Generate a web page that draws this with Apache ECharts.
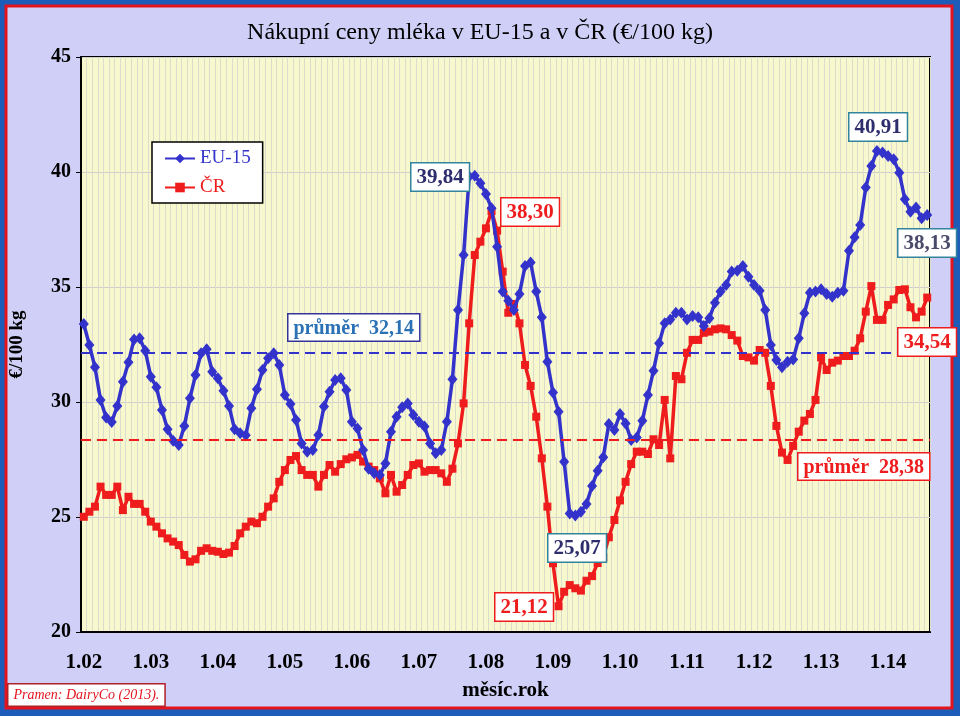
<!DOCTYPE html>
<html><head><meta charset="utf-8">
<script src="https://cdn.jsdelivr.net/npm/echarts@6/dist/echarts.min.js"></script>
<style>html,body{margin:0;padding:0;background:#fff}#c{width:960px;height:716px}</style>
</head><body><div id="c"></div>
<script>
// ---- data ----
const years = ['02','03','04','05','06','07','08','09','10','11','12','13','14'];
const monthCount = 152; // 1.02 .. 8.14
const eu15 = [
 33.39,32.48,31.51,30.09,29.33,29.13,29.83,30.88,31.73,32.72,32.77,32.23,
 31.10,30.64,29.65,28.81,28.32,28.13,28.96,30.16,31.17,32.12,32.29,31.32,
 31.03,30.49,29.83,28.81,28.64,28.55,29.73,30.55,31.39,31.90,32.12,31.61,
 30.30,29.91,29.22,28.20,27.84,27.91,28.57,29.80,30.45,30.96,31.03,30.52,
 29.14,28.85,27.91,27.10,26.90,26.83,27.33,28.71,29.36,29.77,29.94,29.43,
 29.14,28.93,28.20,27.77,27.91,29.14,30.99,34.00,36.39,39.80,39.84,39.51,
 39.04,38.42,36.75,34.80,34.40,34.00,34.70,35.91,36.06,34.80,33.68,31.75,
 30.41,29.58,27.40,25.15,25.07,25.23,25.57,26.35,27.01,27.60,29.04,28.78,
 29.48,29.07,28.35,28.46,29.19,30.30,31.36,32.55,33.42,33.59,33.88,33.88,
 33.59,33.74,33.68,33.30,33.64,34.32,34.80,35.09,35.67,35.71,35.91,35.45,
 35.09,34.84,34.00,32.48,31.83,31.51,31.75,31.85,32.77,33.86,34.75,34.80,
 34.90,34.70,34.58,34.75,34.84,36.58,37.16,37.70,39.33,40.26,40.91,40.85,
 40.70,40.55,39.97,38.81,38.27,38.46,37.99,38.13
];
const cr = [
 25.01,25.23,25.45,26.32,25.96,25.96,26.32,25.30,25.88,25.57,25.57,25.23,
 24.80,24.58,24.29,24.07,23.93,23.78,23.35,23.06,23.16,23.53,23.64,23.53,
 23.49,23.39,23.45,23.74,24.29,24.58,24.80,24.73,25.01,25.45,25.81,26.53,
 27.04,27.48,27.65,27.04,26.83,26.83,26.32,26.83,27.26,26.97,27.30,27.51,
 27.59,27.70,27.41,27.19,27.04,26.68,26.03,26.83,26.10,26.39,26.83,27.26,
 27.33,26.97,27.04,27.04,26.90,26.53,27.10,28.20,29.94,33.42,36.39,36.97,
 37.55,38.30,37.45,35.67,33.88,34.26,33.42,31.61,30.70,29.36,27.55,25.45,
 22.99,21.12,21.75,22.04,21.90,21.80,22.23,22.43,23.00,23.25,24.12,24.87,
 25.72,26.53,27.30,27.84,27.84,27.74,28.38,28.13,30.09,27.55,31.13,30.99,
 32.14,32.70,32.70,33.01,33.06,33.16,33.20,33.16,32.91,32.67,32.00,31.94,
 31.80,32.26,32.14,30.70,28.96,27.80,27.48,28.09,28.71,29.19,29.48,30.09,
 31.94,31.39,31.71,31.80,32.00,32.00,32.23,32.77,33.93,35.04,33.57,33.57,
 34.22,34.46,34.87,34.90,34.12,33.68,33.93,34.54
];
const avgEU = 32.14;
const avgCR = 28.38;
const yTicks = {min: 20, max: 45, interval: 5};

// categories m.yy
const months = [];
for (const y of years) for (let m = 1; m <= 12; m++) if (months.length < monthCount) months.push(m + '.' + y);

const SERIF = '"Liberation Serif", "Times New Roman", serif';
const BLUE = '#3333cc', RED = '#ee1c1c', NAVY = '#2e2e6e', TEAL = '#31849b';

function box(text, x, y, color, border, size, extra) {
  return Object.assign({
    type: 'text', left: x, top: y, z: 100,
    style: {
      text: text, font: 'bold ' + size + 'px ' + SERIF, fill: color,
      backgroundColor: '#ffffff', borderColor: border, borderWidth: 1.5,
      padding: [4, 5, 2, 5]
    }
  }, extra || {});
}

const chart = echarts.init(document.getElementById('c'));
chart.setOption({
  animation: false,
  backgroundColor: '#1d5cb8',
  title: {
    text: 'Nákupní ceny mléka v EU-15 a v ČR (€/100 kg)',
    left: 'center', top: 16,
    textStyle: {fontFamily: SERIF, fontSize: 24, fontWeight: 'normal', color: '#000'}
  },
  graphic: [
    {type: 'rect', z: -100, shape: {x: 6, y: 6, width: 946, height: 702},
     style: {fill: '#cfcff7', stroke: '#e4141e', lineWidth: 3}},
    box('39,84', 410, 162, NAVY, TEAL, 21),
    box('38,30', 500, 197, RED, RED, 21),
    box('40,91', 848, 112, NAVY, TEAL, 21),
    box('38,13', 897, 228, '#4a4a6a', TEAL, 21),
    box('34,54', 897, 327, RED, RED, 21),
    box('průměr  32,14', 287, 313, '#2a72b5', '#333399', 20),
    box('průměr  28,38', 797, 452, RED, RED, 20),
    box('25,07', 547, 533, NAVY, TEAL, 21),
    box('21,12', 494, 592, RED, RED, 21),
    {type: 'text', left: 7, top: 683, z: 100,
     style: {text: 'Pramen: DairyCo (2013).', font: 'italic 14px ' + SERIF, fill: '#e4141e',
             backgroundColor: '#ffffff', borderColor: '#b0202a', borderWidth: 1.5, padding: [4, 5, 3, 5]}}
  ],
  legend: {
    left: 152, top: 142, orient: 'vertical',
    backgroundColor: '#ffffff', borderColor: '#000', borderWidth: 1.5,
    padding: [7, 12, 6, 12], itemGap: 10, itemWidth: 30, itemHeight: 12,
    textStyle: {fontFamily: SERIF, fontSize: 19},
    data: [
      {name: 'EU-15', textStyle: {color: BLUE}},
      {name: 'ČR', textStyle: {color: RED}}
    ]
  },
  grid: {
    left: 80, right: 30, top: 57, bottom: 84, show: true,
    backgroundColor: '#f8f8cf', borderColor: '#000', borderWidth: 2
  },
  xAxis: {
    type: 'category', data: months, boundaryGap: true,
    name: 'měsíc.rok', nameLocation: 'middle', nameGap: 48,
    nameTextStyle: {fontFamily: SERIF, fontSize: 21, fontWeight: 'bold', color: '#000'},
    axisLine: {lineStyle: {color: '#000', width: 2}},
    axisTick: {show: false},
    axisLabel: {interval: 11, margin: 20, fontFamily: SERIF, fontSize: 21, fontWeight: 'bold', color: '#000'},
    splitLine: {show: true, interval: 0, lineStyle: {color: '#dcdccc', width: 1}}
  },
  yAxis: {
    type: 'value', min: yTicks.min, max: yTicks.max, interval: yTicks.interval,
    name: '€/100 kg', nameLocation: 'middle', nameGap: 54,
    nameTextStyle: {fontFamily: SERIF, fontSize: 19, fontWeight: 'bold', color: '#000'},
    axisLine: {show: true, lineStyle: {color: '#000', width: 2}},
    axisTick: {show: true, length: 5, lineStyle: {color: '#000'}},
    axisLabel: {margin: 10, fontFamily: SERIF, fontSize: 20, fontWeight: 'bold', color: '#000'},
    splitLine: {show: true, lineStyle: {color: '#cfcfcf', width: 1}}
  },
  series: [
    {
      name: 'EU-15', type: 'line', data: eu15, z: 4,
      symbol: 'diamond', symbolSize: [10, 12], showAllSymbol: true,
      lineStyle: {color: BLUE, width: 3.5},
      itemStyle: {color: BLUE},
      markLine: {silent: true, symbol: 'none', label: {show: false},
        lineStyle: {color: BLUE, type: [10, 6], width: 2},
        data: [{yAxis: avgEU}]}
    },
    {
      name: 'ČR', type: 'line', data: cr, z: 3,
      symbol: 'rect', symbolSize: 8, showAllSymbol: true,
      lineStyle: {color: RED, width: 3.5},
      itemStyle: {color: RED},
      markLine: {silent: true, symbol: 'none', label: {show: false},
        lineStyle: {color: RED, type: [10, 6], width: 2},
        data: [{yAxis: avgCR}]}
    }
  ]
});
</script></body></html>
